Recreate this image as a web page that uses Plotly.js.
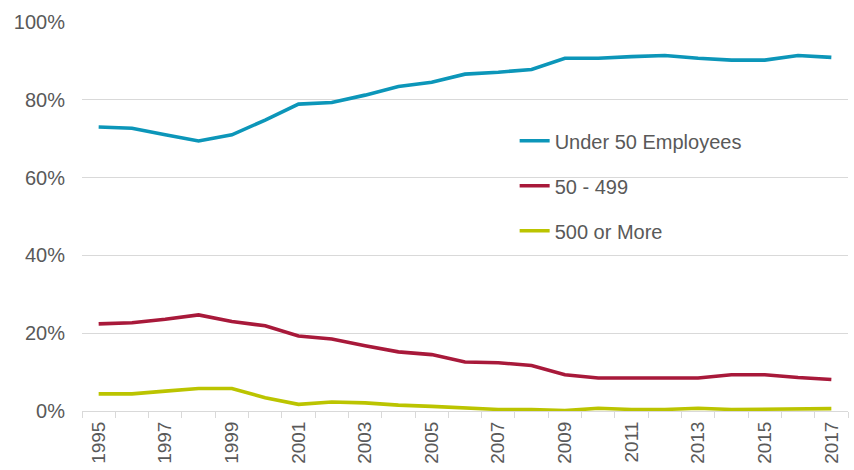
<!DOCTYPE html>
<html><head><meta charset="utf-8">
<script src="https://cdn.plot.ly/plotly-3.0.1.min.js"></script>
<style>html,body{margin:0;padding:0;background:#fff}#chart{width:854px;height:470px}</style>
</head><body><div id="chart"></div>
<script>
const years = [1995,1996,1997,1998,1999,2000,2001,2002,2003,2004,2005,2006,2007,2008,2009,2010,2011,2012,2013,2014,2015,2016,2017];
const under50 = [73.0,72.7,71.0,69.4,71.0,74.8,78.9,79.3,81.2,83.4,84.5,86.6,87.1,87.8,90.7,90.7,91.1,91.4,90.7,90.2,90.2,91.4,90.9];
const mid50to499 = [22.4,22.7,23.6,24.7,23.0,21.9,19.3,18.5,16.8,15.2,14.5,12.6,12.4,11.7,9.3,8.5,8.5,8.5,8.5,9.3,9.3,8.6,8.1];
const over500 = [4.4,4.4,5.1,5.8,5.8,3.4,1.7,2.3,2.1,1.5,1.2,0.8,0.4,0.4,0.1,0.7,0.4,0.4,0.7,0.4,0.4,0.4,0.6];
const seriesNames = ['Under 50 Employees','50 - 499','500 or More'];
const yTicks = [0,20,40,60,80,100];
const yTickLabels = ['0%','20%','40%','60%','80%','100%'];
const xTickYears = [1995,1997,1999,2001,2003,2005,2007,2009,2011,2013,2015,2017];

const colors = ['#0C96B9','#A8193A','#BBC400'];
const data = [under50, mid50to499, over500].map((vals,i)=>({
  x: years, y: vals, type:'scatter', mode:'lines', name: seriesNames[i],
  legendgroup: 'g'+i,
  line:{color:colors[i], width:3.6}
}));

const layout = {
  width:854, height:470,
  margin:{l:82, r:6, t:22, b:59},
  paper_bgcolor:'#fff', plot_bgcolor:'#fff',
  font:{family:'Liberation Sans, Arial, sans-serif', size:20, color:'#595959'},
  showlegend:true,
  legend:{x:0.5648, y:0.745, xanchor:'left', yanchor:'top', bgcolor:'rgba(0,0,0,0)',
          tracegroupgap:16, font:{size:20, color:'#595959'}},
  xaxis:{range:[1994.5,2017.5], tickmode:'array', tickvals:xTickYears, ticktext:xTickYears.map(String),
         tickangle:-90, ticks:'', showgrid:false, zeroline:false,
         showline:true, linecolor:'#d9d9d9', linewidth:1,
         minor:{tickmode:'linear', tick0:1994.5, dtick:1, ticks:'outside', ticklen:6, tickcolor:'#d9d9d9', showgrid:false},
         tickfont:{size:19, color:'#595959'}, ticklabelstandoff:2},
  yaxis:{range:[0,100], tickmode:'array', tickvals:yTicks, ticktext:yTickLabels,
         showgrid:true, gridcolor:'#d9d9d9', gridwidth:1, zeroline:false, showline:false,
         ticks:'', tickfont:{size:20, color:'#595959'}, ticklabelstandoff:16}
};
Plotly.newPlot('chart', data, layout, {displayModeBar:false, staticPlot:true});
</script></body></html>
